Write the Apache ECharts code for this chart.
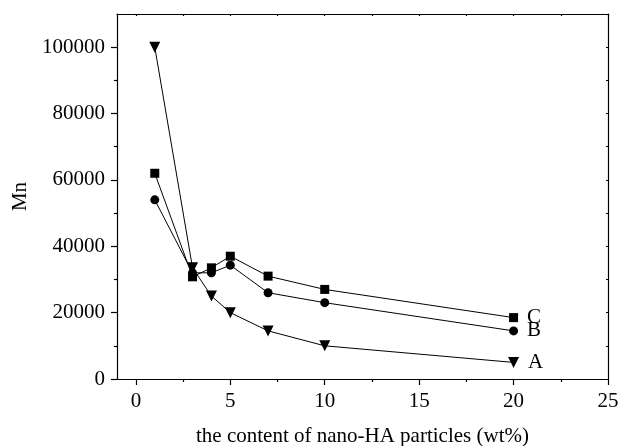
<!DOCTYPE html>
<html>
<head>
<meta charset="utf-8">
<script src="https://cdn.jsdelivr.net/npm/echarts@6/dist/echarts.min.js"></script>
<style>
  html, body { margin: 0; padding: 0; background: #fff; }
  #chart { width: 619px; height: 446px; }
</style>
</head>
<body>
<div id="chart"></div>
<script>
// content of nano-HA particles (wt%)
var content = [1, 3, 4, 5, 7, 10, 20];
var mnA = [100000, 33500, 25000, 20000, 14500, 10000, 5000];
var mnB = [54000, 32000, 32000, 34300, 26000, 23000, 14500];
var mnC = [62000, 30800, 33500, 37000, 31000, 27000, 18500];
var xTicks = [0, 5, 10, 15, 20, 25];
var xMinor = [2.5, 7.5, 12.5, 17.5, 22.5];
var yTicks = [0, 20000, 40000, 60000, 80000, 100000];
var yMinor = [10000, 30000, 50000, 70000, 90000];

var font = 'Liberation Serif';

function pairs(ys, name) {
  return content.map(function (x, i) {
    var item = { value: [x, ys[i]] };
    if (i === content.length - 1) {
      item.label = { show: true, formatter: name, position: 'right', distance: 9,
        color: '#000', fontFamily: font, fontSize: 21 };
    }
    return item;
  });
}

var chart = echarts.init(document.getElementById('chart'));
var line = { color: '#000', width: 1.2 };

var option = {
  animation: false,
  grid: { left: 117, right: 11, top: 14, bottom: 67, containLabel: false, outerBoundsMode: 'none' },
  xAxis: [
    {
      type: 'value', min: -1, max: 25, position: 'bottom',
      name: 'the content of nano-HA particles (wt%)', nameLocation: 'middle', nameGap: 47,
      nameTextStyle: { color: '#000', fontFamily: font, fontSize: 21 },
      axisLine: { onZero: false, lineStyle: line },
      axisTick: { show: true, customValues: xTicks, length: 6, lineStyle: line },
      axisLabel: { customValues: xTicks, color: '#000', fontFamily: font, fontSize: 21, margin: 12 },
      splitLine: { show: false }
    },
    {
      type: 'value', min: -1, max: 25, position: 'bottom',
      axisLine: { show: false, onZero: false },
      axisTick: { show: true, customValues: xMinor, length: 3, lineStyle: line },
      axisLabel: { show: false },
      splitLine: { show: false }
    },
    {
      type: 'value', min: -1, max: 25, position: 'top',
      axisLine: { onZero: false, lineStyle: line },
      axisTick: { show: true, customValues: xTicks.concat(xMinor), length: 2, inside: true, lineStyle: line },
      axisLabel: { show: false },
      splitLine: { show: false }
    }
  ],
  yAxis: [
    {
      type: 'value', min: 0, max: 110000, position: 'left',
      name: 'Mn', nameLocation: 'middle', nameGap: 84, nameRotate: 90,
      nameTextStyle: { color: '#000', fontFamily: font, fontSize: 21 },
      axisLine: { show: true, onZero: false, lineStyle: line },
      axisTick: { show: true, customValues: yTicks, length: 6, lineStyle: line },
      axisLabel: { customValues: yTicks, color: '#000', fontFamily: font, fontSize: 21, margin: 12,
        formatter: function (v) { return String(v); } },
      splitLine: { show: false }
    },
    {
      type: 'value', min: 0, max: 110000, position: 'left',
      axisLine: { show: false, onZero: false },
      axisTick: { show: true, customValues: yMinor, length: 3, lineStyle: line },
      axisLabel: { show: false },
      splitLine: { show: false }
    },
    {
      type: 'value', min: 0, max: 110000, position: 'right',
      axisLine: { show: true, onZero: false, lineStyle: line },
      axisTick: { show: true, customValues: yTicks.concat(yMinor), length: 2, inside: true, lineStyle: line },
      axisLabel: { show: false },
      splitLine: { show: false }
    }
  ],
  series: [
    {
      name: 'A', type: 'line', data: pairs(mnA, 'A'),
      symbol: 'triangle', symbolRotate: 180, symbolSize: 11,
      itemStyle: { color: '#000' }, lineStyle: { color: '#000', width: 1 }
    },
    {
      name: 'B', type: 'line', data: pairs(mnB, 'B'),
      symbol: 'circle', symbolSize: 9,
      itemStyle: { color: '#000' }, lineStyle: { color: '#000', width: 1 }
    },
    {
      name: 'C', type: 'line', data: pairs(mnC, 'C'),
      symbol: 'rect', symbolSize: 9,
      itemStyle: { color: '#000' }, lineStyle: { color: '#000', width: 1 }
    }
  ]
};

chart.setOption(option);
</script>
</body>
</html>
